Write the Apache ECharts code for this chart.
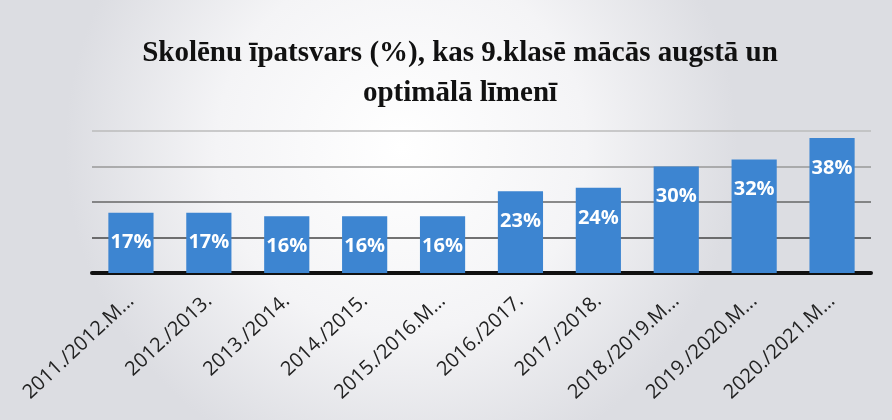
<!DOCTYPE html>
<html>
<head>
<meta charset="utf-8">
<script src="https://cdn.jsdelivr.net/npm/echarts@6/dist/echarts.min.js"></script>
<style>
  html, body { margin: 0; padding: 0; }
  #chart { width: 892px; height: 420px; }
</style>
</head>
<body>
<div id="chart"></div>
<script>
// kategorijas (mācību gadi)
var years = ['2011./2012.M...', '2012./2013.', '2013./2014.', '2014./2015.', '2015./2016.M...',
  '2016./2017.', '2017./2018.', '2018./2019.M...', '2019./2020.M...', '2020./2021.M...'];
// skolēnu īpatsvars, %
var shares = [17, 17, 16, 16, 16, 23, 24, 30, 32, 38];
// y ass skala
var yMin = 0;
var yMax = 40;
var yStep = 10;

var chart = echarts.init(document.getElementById('chart'));
var option = {
  backgroundColor: {
    type: 'radial', x: 0.45, y: 0.35, r: 0.8,
    colorStops: [
      { offset: 0, color: '#ffffff' },
      { offset: 0.55, color: '#f4f4f6' },
      { offset: 1, color: '#dcdde2' }
    ]
  },
  title: {
    text: 'Skolēnu īpatsvars (%), kas 9.klasē mācās augstā un\noptimālā līmenī',
    left: 455,
    top: 29,
    textAlign: 'center',
    textStyle: {
      fontFamily: 'Liberation Serif',
      fontWeight: 'bold',
      fontSize: 29,
      lineHeight: 40,
      color: '#111'
    }
  },
  grid: { left: 92, right: 21, top: 131, bottom: 147 },
  xAxis: {
    type: 'category',
    data: years,
    axisLine: { lineStyle: { color: '#111', width: 4 } },
    axisTick: { show: false },
    axisLabel: {
      interval: 0,
      rotate: 43,
      margin: 25,
      fontFamily: 'Open Sans',
      fontSize: 20,
      color: '#222'
    }
  },
  yAxis: {
    type: 'value',
    min: yMin,
    max: yMax,
    interval: yStep,
    axisLabel: { show: false },
    axisLine: { show: false },
    axisTick: { show: false },
    splitLine: {
      lineStyle: { color: ['#444', '#444', '#666', '#999', '#bbb'], width: 1.5 }
    }
  },
  series: [{
    type: 'bar',
    data: shares,
    barCategoryGap: '42%',
    itemStyle: { color: '#3d85d1' },
    label: {
      show: true,
      position: 'insideTop',
      distance: 20,
      formatter: '{c}%',
      fontFamily: 'Open Sans',
      fontWeight: 'bold',
      fontSize: 20,
      color: '#fff'
    }
  }]
};
chart.setOption(option);
</script>
</body>
</html>
